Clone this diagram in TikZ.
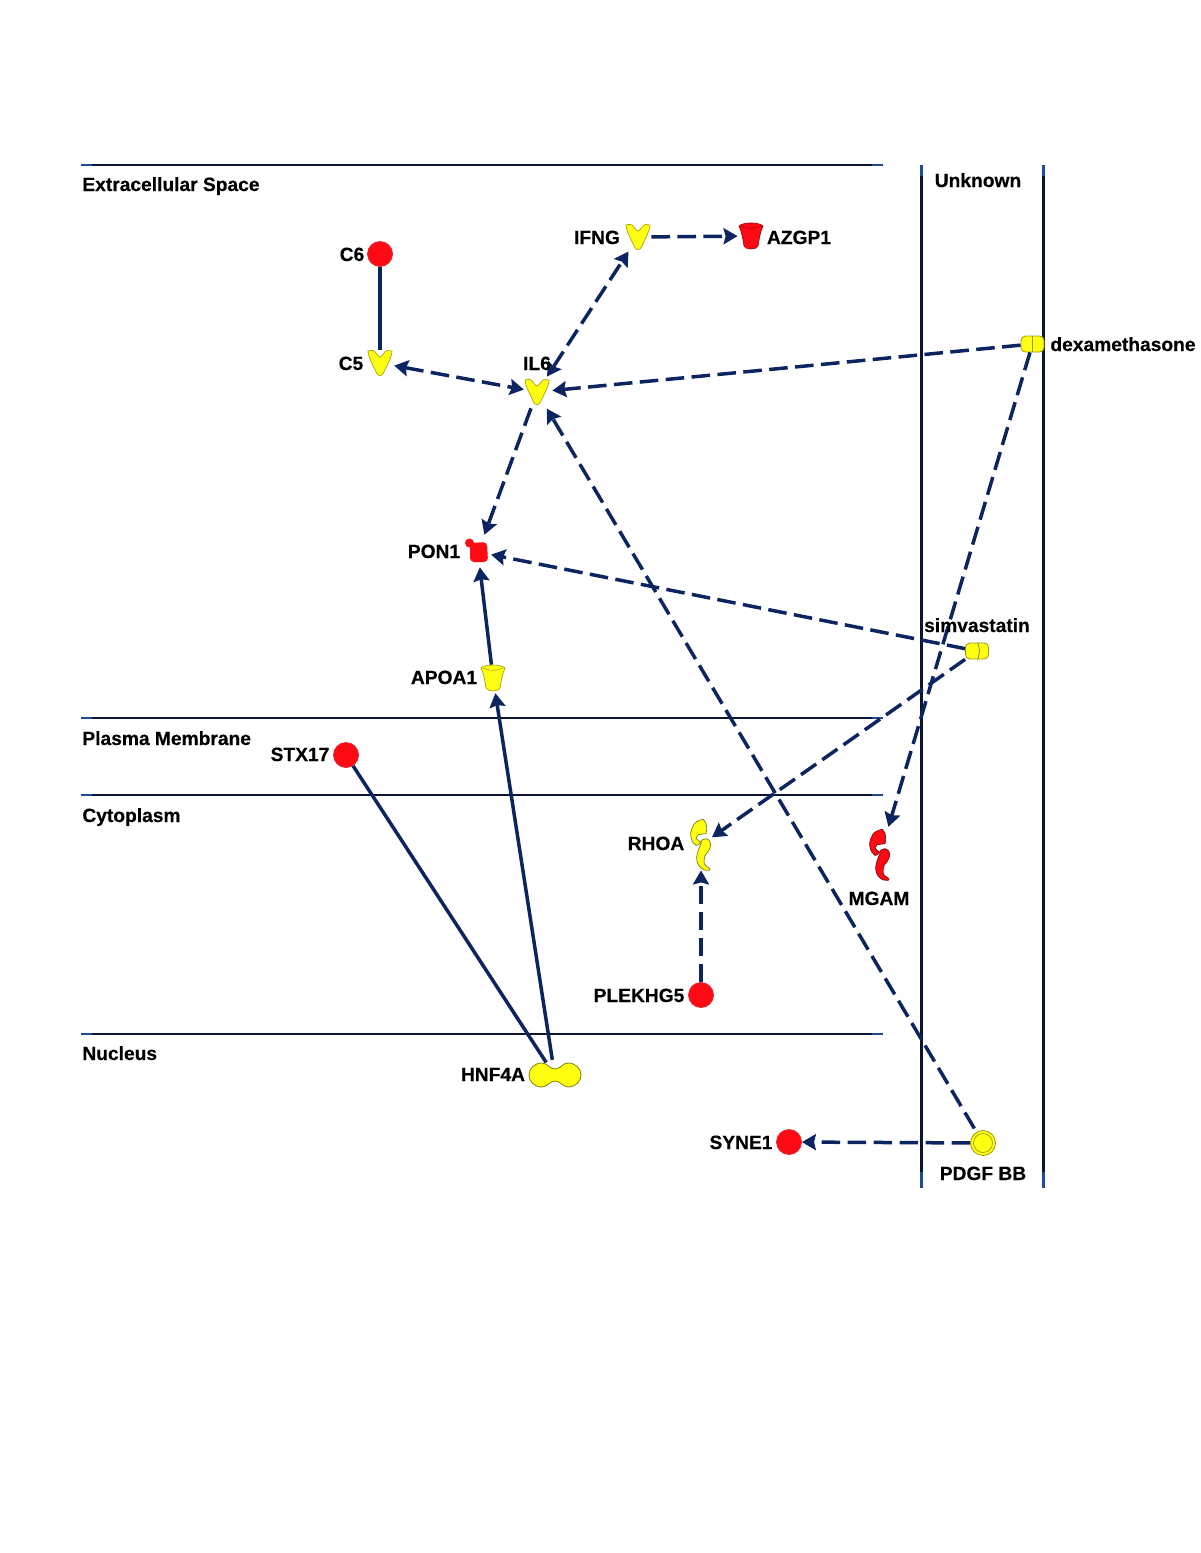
\documentclass[tikz,border=0pt]{standalone}
\usepackage{fontspec}
\setmainfont[BoldFeatures={FakeBold=0.35}]{Liberation Sans}
\usetikzlibrary{arrows.meta}
\definecolor{navy}{HTML}{0C2560}
\definecolor{rulecol}{HTML}{0B1530}
\definecolor{endcol}{HTML}{1F4A94}
\definecolor{ry}{HTML}{FFFF11}
\definecolor{rr}{HTML}{FF0A14}
\tikzset{
  x=0.5pt,y=-0.5pt,
  lab/.style={font=\bfseries\fontsize{9.6}{11}\selectfont,inner sep=0pt,anchor=base,text=black},
  labw/.style={lab,anchor=base west},
  anchornode/.style={circle,minimum size=26*0.5pt,inner sep=0pt},
  ball/.style={circle,minimum size=25*0.5pt,inner sep=0pt,fill=#1,draw=#1!75!gray,line width=0.4pt},
  drug/.style={rectangle,rounded corners=2.2pt,minimum width=11.5pt,minimum height=8pt,inner sep=0pt,fill=ry,draw=ry!60!black,line width=0.4pt},
  conn/.style={draw=navy,line width=1.75pt},
  dashedge/.style={conn,dash pattern=on 9.3pt off 3.7pt},
  onetip/.style={-{Stealth[length=7pt,width=8pt,inset=1pt]}},
  twotips/.style={{Stealth[length=7pt,width=8pt,inset=1pt]}-{Stealth[length=7pt,width=8pt,inset=1pt]}},
  hrule/.style={draw=rulecol,line width=1.2pt},
  endrule/.style={draw=endcol,line width=1.2pt},
  pics/ykine/.style={code={
    \path[fill=#1,draw=#1!65!black,line width=0.35pt,line join=round]
      (-12,-12) .. controls (-8,-13) and (-6,-13) .. (-4,-10)
      .. controls (-2,-7) and (-1,-6) .. (0,-6)
      .. controls (1,-6) and (2,-7) .. (4,-10)
      .. controls (6,-13) and (9,-13) .. (12,-12)
      .. controls (12,-6) and (6,4) .. (3,11)
      .. controls (2,13) and (-2,13) .. (-3,11)
      .. controls (-6,4) and (-12,-6) .. (-12,-12) -- cycle;}},
  pics/cup/.style={code={
    \path[fill=#1,draw=#1!65!black,line width=0.35pt,line join=round]
      (-12,-10) .. controls (-8,-14) and (8,-14) .. (12,-10)
      .. controls (9,-4) and (8,4) .. (7,10)
      .. controls (5,14) and (-5,14) .. (-7,10)
      .. controls (-8,4) and (-9,-4) .. (-12,-10) -- cycle;
    \path[draw=#1!65!black,line width=0.3pt] (-10,-10) .. controls (-4,-7) and (4,-7) .. (10,-10);}},
  pics/enzyme/.style={code={
    \path[fill=#1,rounded corners=2pt]
      (-8,-9) -- (9,-10) -- (10,10) -- (-8,10) -- cycle;
    \path[fill=#1] (-8.5,-9) circle[radius=4.5];}},
  pics/crescents/.style={code={
    \path[fill=#1,draw=#1!50!black,line width=0.35pt,line join=round]
      (2.3,-25.7) .. controls (-3,-25) and (-7,-22) .. (-8,-19)
      .. controls (-10,-15) and (-11,-11) .. (-10,-8)
      .. controls (-9,-3) and (-7,-1) .. (-5,0.5)
      .. controls (-3,0) and (-1,-1) .. (-0.3,-3)
      .. controls (-2,-4) and (-4,-5) .. (-5,-7)
      .. controls (-4,-9) and (-3,-10) .. (-2.7,-10.3)
      .. controls (0,-11) and (3,-11) .. (5,-11.3)
      .. controls (6,-15) and (6.5,-22) .. (2.3,-25.7) -- cycle;
    \path[fill=#1,draw=#1!50!black,line width=0.35pt,line join=round]
      (5,-6.3) .. controls (3,-6) and (1,-5) .. (0.7,-4.7)
      .. controls (0.5,-3) and (0.5,-2) .. (-0.3,-0.7)
      .. controls (-2,3) and (-4,8) .. (-4.3,12)
      .. controls (-4.5,16) and (-3,20) .. (-1,22)
      .. controls (2,25) and (5,26) .. (8.3,25.3)
      .. controls (9.5,25) and (9.5,24) .. (9,23.7)
      .. controls (6,22) and (3,20) .. (3,17)
      .. controls (3,14) and (3.5,12) .. (4,10.3)
      .. controls (7,7) and (10,3) .. (9.7,-1.3)
      .. controls (9.5,-4) and (7,-6.5) .. (5,-6.3) -- cycle;}},
  pics/peanut/.style={code={
    \path[fill=#1,draw=#1!50!black,line width=0.4pt]
      (-13,-12) .. controls (-8,-12) and (-5,-6) .. (0,-6)
      .. controls (5,-6) and (8,-12) .. (13,-12)
      .. controls (21,-12) and (26,-6) .. (26,0)
      .. controls (26,6) and (21,12) .. (13,12)
      .. controls (8,12) and (5,6) .. (0,6)
      .. controls (-5,6) and (-8,12) .. (-13,12)
      .. controls (-21,12) and (-26,6) .. (-26,0)
      .. controls (-26,-6) and (-21,-12) .. (-13,-12) -- cycle;}},
}
\begin{document}
\begin{tikzpicture}
\useasboundingbox (0,0) rectangle (1200,1553);

% compartment rules
\foreach \yy in {165,718,795,1034}{
  \draw[hrule] (81,\yy) -- (883,\yy);
  \draw[endrule] (81,\yy) -- (92,\yy);
  \draw[endrule] (872,\yy) -- (883,\yy);
}
\foreach \xx in {921.5,1043.5}{
  \draw[hrule] (\xx,165) -- (\xx,1188);
  \draw[endrule] (\xx,165) -- (\xx,176);
  \draw[endrule] (\xx,1172) -- (\xx,1188);
}

% nodes
\node[ball=rr] (c6) at (380,254) {};
\node[anchornode] (c5) at (380,363) {};
\node[anchornode] (il6) at (537,392) {};
\node[anchornode] (ifng) at (638,237) {};
\node[anchornode] (azgp1) at (751,236) {};
\node[anchornode] (pon1) at (478,552) {};
\node[anchornode] (apoa1) at (493,678) {};
\node[ball=rr] (stx17) at (346,755) {};
\node[anchornode] (rhoa) at (701,845) {};
\node[anchornode] (mgam) at (880,855) {};
\node[ball=rr] (plekhg5) at (701,995) {};
\node[anchornode,minimum size=15pt] (hnf4a) at (555,1075) {};
\node[ball=rr] (syne1) at (789,1142) {};
\node[ball=ry,draw=ry!60!black] (pdgf) at (983,1143) {};
\node[drug] (dexa) at (1032.5,344) {};
\node[drug] (simva) at (977,651) {};

% connectors
\draw[conn] (c6) -- (c5);
\draw[dashedge,twotips,shorten <=0.5pt,shorten >=0pt] (c5) -- (il6);
\draw[dashedge,twotips,shorten <=2.5pt,shorten >=2pt] (il6) -- (ifng);
\draw[dashedge,onetip] (ifng) -- (azgp1);
\draw[dashedge,onetip,shorten >=1pt] (dexa) -- (il6);
\draw[dashedge,onetip,shorten >=8pt] (dexa) -- (mgam);
\draw[dashedge,onetip,shorten <=2pt,shorten >=2.5pt] (il6) -- (pon1);
\draw[dashedge,onetip,shorten <=2pt,shorten >=3pt] (pdgf) -- (il6);
\draw[dashedge,onetip] (simva) -- (pon1);
\draw[dashedge,onetip] (simva) -- (rhoa);
\draw[conn,onetip,shorten <=0pt,shorten >=1pt] (apoa1) -- (pon1);
\draw[conn,onetip,shorten >=1pt] (hnf4a.100) -- (apoa1);
\draw[conn] (hnf4a.125) -- (stx17);
\draw[dashedge,onetip,shorten >=6pt] (plekhg5) -- (rhoa);
\draw[dashedge,onetip] (pdgf) -- (syne1);

% glyphs
\pic at (c5) {ykine=ry};
\pic at (il6) {ykine=ry};
\pic at (ifng) {ykine=ry};
\pic at (azgp1) {cup=rr};
\pic at (pon1) {enzyme=rr};
\pic at (apoa1) {cup=ry};
\pic at (rhoa) {crescents=ry};
\pic at (mgam) {crescents=rr};
\pic at (hnf4a) {peanut=ry};
\draw[ry!60!black,line width=0.35pt] (pdgf) circle[radius=9.5];
\draw[ry!60!black,line width=0.35pt] (dexa.north) -- (dexa.south);
\draw[ry!50!black,line width=0.35pt] ([xshift=0.3pt]simva.north) .. controls ([xshift=1.6pt]simva.center) .. ([xshift=0.3pt]simva.south);

% labels
\node[labw] (lecs) at (82,191) {Extracellular Space};
\node[labw] (lpm) at (82,745) {Plasma Membrane};
\node[labw] (lcyt) at (82,822) {Cytoplasm};
\node[labw] (lnuc) at (82,1060) {Nucleus};
\node[lab] (lunk) at (978,187) {Unknown};
\node[lab] (tc6) at (352,261) {C6};
\node[lab] (tc5) at (351,370) {C5};
\node[lab] (til6) at (537,370) {IL6};
\node[lab] (tifng) at (597,244) {IFNG};
\node[lab] (tazgp1) at (799,244) {AZGP1};
\node[lab] (tpon1) at (434,558) {PON1};
\node[lab] (tapoa1) at (444,684) {APOA1};
\node[lab] (tstx17) at (300,761) {STX17};
\node[lab] (trhoa) at (656,850) {RHOA};
\node[lab] (tmgam) at (879,905) {MGAM};
\node[lab] (tplek) at (639,1002) {PLEKHG5};
\node[lab] (thnf) at (493,1081) {HNF4A};
\node[lab] (tsyne) at (741,1149) {SYNE1};
\node[lab] (tpdgf) at (983,1180) {PDGF BB};
\node[lab] (tdexa) at (1123,351) {dexamethasone};
\node[lab] (tsimva) at (977,632) {simvastatin};
\end{tikzpicture}
\end{document}
